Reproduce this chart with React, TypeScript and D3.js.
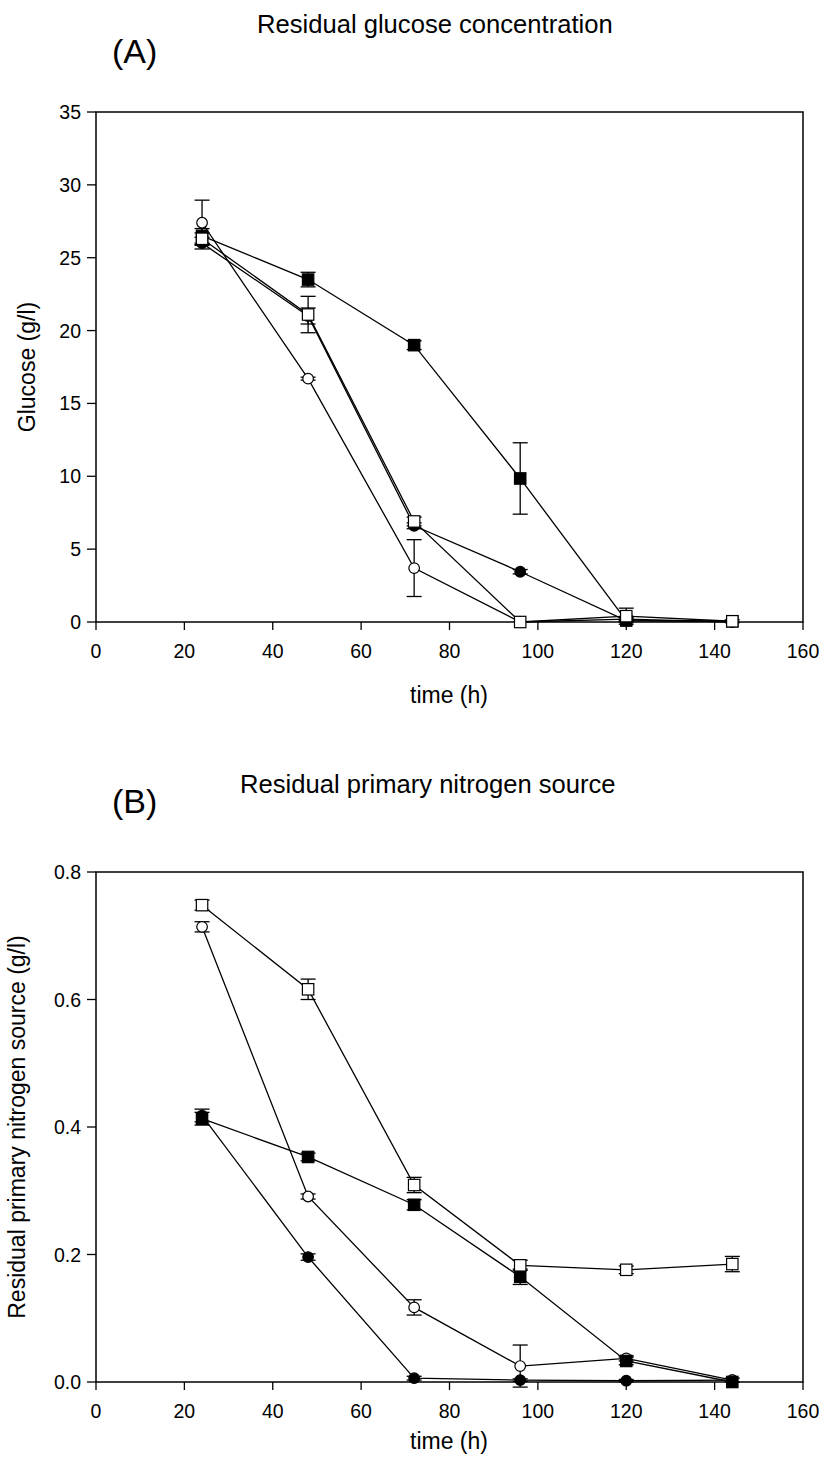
import React from 'react';
import * as d3 from 'd3';

// sampling times (h)
const times = [24, 48, 72, 96, 120, 144];

// panel A: residual glucose (g/l)
const glcFilledCircle = [26.0, 21.0, 6.6, 3.45, 0.1, 0.05];
const glcOpenCircle = [27.4, 16.7, 3.7, 0.0, 0.2, 0.0];
const glcFilledSquare = [26.5, 23.5, 19.0, 9.85, 0.1, 0.05];
const glcOpenSquare = [26.3, 21.1, 6.9, 0.0, 0.4, 0.05];
const glcErrFilledCircle = [0.4, 0.55, 0.2, 0.15, 0.05, 0.0];
const glcErrOpenCircle = [1.55, 0.1, 1.95, 0.0, 0.1, 0.0];
const glcErrFilledSquare = [0.5, 0.5, 0.3, 2.45, 0.1, 0.1];
const glcErrOpenSquare = [0.4, 1.25, 0.3, 0.0, 0.55, 0.0];

// panel B: residual primary nitrogen source (g/l)
const nFilledCircle = [0.418, 0.196, 0.006, 0.003, 0.002, 0.003];
const nOpenCircle = [0.714, 0.291, 0.117, 0.025, 0.037, 0.003];
const nFilledSquare = [0.413, 0.353, 0.278, 0.165, 0.033, 0.0];
const nOpenSquare = [0.748, 0.616, 0.309, 0.183, 0.176, 0.185];
const nErrFilledCircle = [0.01, 0.005, 0.003, 0.002, 0.002, 0.003];
const nErrOpenCircle = [0.008, 0.004, 0.012, 0.033, 0.004, 0.0];
const nErrFilledSquare = [0.01, 0.006, 0.008, 0.012, 0.006, 0.0];
const nErrOpenSquare = [0.008, 0.016, 0.012, 0.008, 0.006, 0.012];

const xTicks = [0, 20, 40, 60, 80, 100, 120, 140, 160];
const glcTicks = [0, 5, 10, 15, 20, 25, 30, 35];
const nTicks = [0, 0.2, 0.4, 0.6, 0.8];

const FONT = 'Liberation Sans, Arial, Helvetica, sans-serif';

type Series = { vals: number[]; errs: number[]; shape: 'circle' | 'square'; filled: boolean };

const Panel = ({ top, yMax, yTicks, yFmt, series, title, tag, tagY, titleX, titleY, yLabel, yLabelX, xLabelY }: any) => {
  const left = 96, right = 803, height = 510;
  const x = d3.scaleLinear().domain([0, 160]).range([left, right]);
  const y = d3.scaleLinear().domain([0, yMax]).range([top + height, top]);
  const line = d3.line<number>().x((_, i) => x(times[i])).y(d => y(d));
  const bottom = top + height;
  return (
    <g>
      <text x={112} y={tagY} fontSize={34} fontFamily={FONT}>{tag}</text>
      <text x={titleX} y={titleY} fontSize={25.6} fontFamily={FONT}>{title}</text>
      <rect x={left} y={top} width={right - left} height={height} fill="none" stroke="#000" strokeWidth={1.5} />
      {xTicks.map(t => (
        <g key={'x' + t}>
          <line x1={x(t)} x2={x(t)} y1={bottom} y2={bottom + 8} stroke="#000" strokeWidth={1.3} />
          <text x={x(t)} y={bottom + 36} textAnchor="middle" fontSize={19.5} fontFamily={FONT}>{t}</text>
        </g>
      ))}
      {yTicks.map((t: number) => (
        <g key={'y' + t}>
          <line x1={left - 9} x2={left} y1={y(t)} y2={y(t)} stroke="#000" strokeWidth={1.3} />
          <text x={left - 15} y={y(t) + 7} textAnchor="end" fontSize={19.5} fontFamily={FONT}>{yFmt(t)}</text>
        </g>
      ))}
      <text x={449} y={xLabelY} textAnchor="middle" fontSize={23} fontFamily={FONT}>time (h)</text>
      <text transform={`translate(${yLabelX},${top + height / 2}) rotate(-90)`} textAnchor="middle" fontSize={23} fontFamily={FONT}>{yLabel}</text>
      {series.map((s: Series, si: number) => (
        <g key={'e' + si}>
          {s.vals.map((v, i) => s.errs[i] > 0 ? (
            <g key={i}>
              <line x1={x(times[i])} x2={x(times[i])} y1={y(v - s.errs[i])} y2={y(v + s.errs[i])} stroke="#000" strokeWidth={1.3} />
              <line x1={x(times[i]) - 7.5} x2={x(times[i]) + 7.5} y1={y(v - s.errs[i])} y2={y(v - s.errs[i])} stroke="#000" strokeWidth={1.3} />
              <line x1={x(times[i]) - 7.5} x2={x(times[i]) + 7.5} y1={y(v + s.errs[i])} y2={y(v + s.errs[i])} stroke="#000" strokeWidth={1.3} />
            </g>
          ) : null)}
        </g>
      ))}
      {series.map((s: Series, si: number) => (
        <path key={'l' + si} d={line(s.vals) || ''} fill="none" stroke="#000" strokeWidth={1.3} />
      ))}
      {series.map((s: Series, si: number) => (
        <g key={'m' + si}>
          {s.vals.map((v, i) => s.shape === 'circle'
            ? <circle key={i} cx={x(times[i])} cy={y(v)} r={5.3} fill={s.filled ? '#000' : '#fff'} stroke="#000" strokeWidth={1.2} />
            : <rect key={i} x={x(times[i]) - 5.7} y={y(v) - 5.7} width={11.4} height={11.4} fill={s.filled ? '#000' : '#fff'} stroke="#000" strokeWidth={1.2} />)}
        </g>
      ))}
    </g>
  );
};

const App = () => {
  const glcSeries: Series[] = [
    { vals: glcFilledCircle, errs: glcErrFilledCircle, shape: 'circle', filled: true },
    { vals: glcOpenCircle, errs: glcErrOpenCircle, shape: 'circle', filled: false },
    { vals: glcFilledSquare, errs: glcErrFilledSquare, shape: 'square', filled: true },
    { vals: glcOpenSquare, errs: glcErrOpenSquare, shape: 'square', filled: false },
  ];
  const nSeries: Series[] = [
    { vals: nFilledCircle, errs: nErrFilledCircle, shape: 'circle', filled: true },
    { vals: nOpenCircle, errs: nErrOpenCircle, shape: 'circle', filled: false },
    { vals: nFilledSquare, errs: nErrFilledSquare, shape: 'square', filled: true },
    { vals: nOpenSquare, errs: nErrOpenSquare, shape: 'square', filled: false },
  ];
  return (
    <svg width={823} height={1470} style={{ position: 'absolute', left: 0, top: 0, background: '#fff' }}>
      <rect width={823} height={1470} fill="#fff" />
      <Panel top={112} yMax={35} yTicks={glcTicks} yFmt={(t: number) => String(t)} series={glcSeries}
        title="Residual glucose concentration" tag="(A)" tagY={63} titleX={257} titleY={33}
        yLabel="Glucose (g/l)" yLabelX={35} xLabelY={703} />
      <Panel top={872} yMax={0.8} yTicks={nTicks} yFmt={(t: number) => t.toFixed(1)} series={nSeries}
        title="Residual primary nitrogen source" tag="(B)" tagY={813} titleX={240} titleY={793}
        yLabel="Residual primary nitrogen source (g/l)" yLabelX={25} xLabelY={1449} />
    </svg>
  );
};

export default App;
